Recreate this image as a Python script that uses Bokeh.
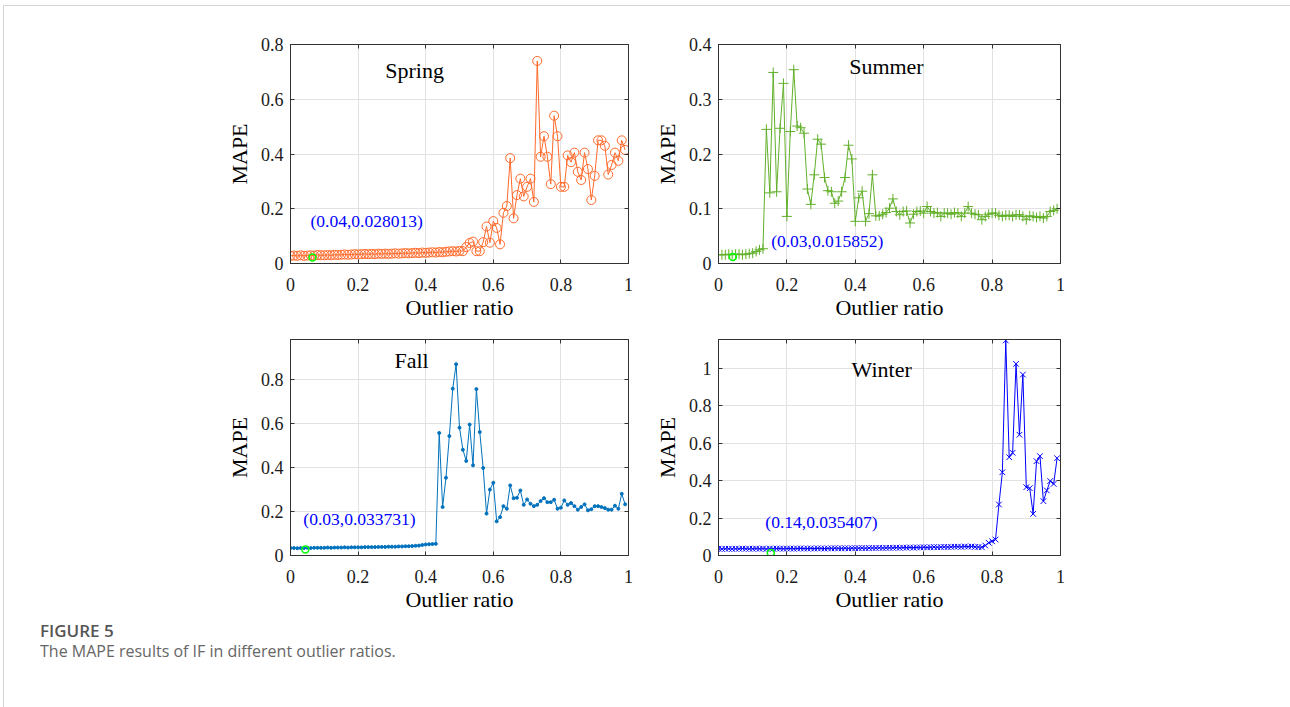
from bokeh.plotting import figure
from bokeh.layouts import row, column
from bokeh.models import (Spacer, Div, Label, LinearAxis, FixedTicker, Range1d,
                          CustomLabelingPolicy)
from bokeh.embed import file_html
from bokeh.resources import INLINE

# ---------------- data ----------------
ratio = [i / 100 for i in range(100)]

spring = [0.028, 0.029, 0.028, 0.030, 0.028, 0.029, 0.030, 0.029, 0.031, 0.030,
          0.030, 0.031, 0.030, 0.032, 0.031, 0.032, 0.033, 0.032, 0.033, 0.034,
          0.033, 0.034, 0.035, 0.034, 0.035, 0.034, 0.036, 0.035, 0.036, 0.035,
          0.036, 0.037, 0.036, 0.037, 0.038, 0.037, 0.038, 0.039, 0.038, 0.040,
          0.039, 0.040, 0.041, 0.040, 0.042, 0.041, 0.043, 0.044, 0.045, 0.044,
          0.046, 0.045, 0.060, 0.075, 0.080, 0.045, 0.045, 0.078, 0.135, 0.076,
          0.155, 0.130, 0.070, 0.185, 0.210, 0.385, 0.165, 0.250, 0.310, 0.245,
          0.280, 0.310, 0.225, 0.740, 0.390, 0.465, 0.390, 0.290, 0.540, 0.465,
          0.280, 0.280, 0.395, 0.370, 0.405, 0.335, 0.305, 0.405, 0.345, 0.232,
          0.320, 0.450, 0.450, 0.430, 0.325, 0.360, 0.405, 0.375, 0.450, 0.415]

summer = [0.016, 0.016, 0.016, 0.017, 0.016, 0.017, 0.017, 0.016, 0.017, 0.018,
          0.019, 0.022, 0.025, 0.027, 0.245, 0.129, 0.349, 0.131, 0.247, 0.329,
          0.086, 0.241, 0.354, 0.251, 0.248, 0.238, 0.136, 0.108, 0.162, 0.227,
          0.218, 0.157, 0.133, 0.131, 0.110, 0.114, 0.131, 0.157, 0.216, 0.191,
          0.077, 0.120, 0.132, 0.077, 0.091, 0.162, 0.087, 0.087, 0.090, 0.093,
          0.101, 0.118, 0.095, 0.089, 0.095, 0.096, 0.074, 0.090, 0.095, 0.096,
          0.092, 0.104, 0.095, 0.092, 0.093, 0.086, 0.092, 0.092, 0.090, 0.093,
          0.092, 0.086, 0.092, 0.104, 0.092, 0.090, 0.089, 0.080, 0.086, 0.090,
          0.092, 0.092, 0.088, 0.086, 0.088, 0.088, 0.086, 0.089, 0.089, 0.086,
          0.080, 0.087, 0.086, 0.084, 0.086, 0.083, 0.086, 0.095, 0.097, 0.100]

fall = [0.034, 0.034, 0.033, 0.034, 0.034, 0.035, 0.034, 0.035, 0.035, 0.035,
        0.035, 0.036, 0.035, 0.036, 0.036, 0.036, 0.037, 0.036, 0.037, 0.037,
        0.037, 0.037, 0.038, 0.038, 0.038, 0.038, 0.039, 0.039, 0.039, 0.040,
        0.040, 0.040, 0.041, 0.041, 0.042, 0.042, 0.043, 0.044, 0.045, 0.048,
        0.050, 0.051, 0.052, 0.053, 0.556, 0.220, 0.353, 0.542, 0.757, 0.868,
        0.580, 0.480, 0.429, 0.594, 0.409, 0.755, 0.560, 0.397, 0.190, 0.299,
        0.330, 0.155, 0.174, 0.224, 0.212, 0.318, 0.260, 0.262, 0.295, 0.230,
        0.254, 0.235, 0.224, 0.230, 0.247, 0.260, 0.242, 0.242, 0.253, 0.212,
        0.217, 0.250, 0.230, 0.238, 0.224, 0.208, 0.220, 0.232, 0.205, 0.210,
        0.224, 0.224, 0.220, 0.215, 0.208, 0.208, 0.226, 0.212, 0.280, 0.232]

winter = [0.036, 0.035, 0.036, 0.036, 0.035, 0.036, 0.036, 0.037, 0.036, 0.036,
          0.036, 0.037, 0.036, 0.037, 0.035, 0.037, 0.036, 0.037, 0.037, 0.036,
          0.037, 0.037, 0.036, 0.037, 0.038, 0.037, 0.037, 0.038, 0.037, 0.038,
          0.038, 0.037, 0.038, 0.038, 0.039, 0.038, 0.038, 0.039, 0.038, 0.039,
          0.039, 0.039, 0.040, 0.039, 0.040, 0.040, 0.040, 0.041, 0.040, 0.041,
          0.041, 0.041, 0.042, 0.041, 0.042, 0.042, 0.043, 0.042, 0.043, 0.043,
          0.044, 0.043, 0.044, 0.045, 0.044, 0.045, 0.046, 0.045, 0.046, 0.047,
          0.047, 0.046, 0.048, 0.047, 0.048, 0.046, 0.045, 0.044, 0.053, 0.068,
          0.076, 0.085, 0.272, 0.444, 1.147, 0.524, 0.548, 1.022, 0.644, 0.965,
          0.364, 0.359, 0.222, 0.503, 0.530, 0.290, 0.347, 0.397, 0.382, 0.519]

# best (minimum) points marked in green, and their annotation texts
best_x = [0.065, 0.042, 0.044, 0.153]
best_y = [0.022, 0.012, 0.027, 0.014]
best_text = ["(0.04,0.028013)", "(0.03,0.015852)", "(0.03,0.033731)", "(0.14,0.035407)"]
season_names = ["Spring", "Summer", "Fall", "Winter"]

x_ticks = [0, 0.2, 0.4, 0.6, 0.8, 1]
x_tick_labels = ["0", "0.2", "0.4", "0.6", "0.8", "1"]
y_ticks_spring = [0, 0.2, 0.4, 0.6, 0.8]
y_labels_spring = ["0", "0.2", "0.4", "0.6", "0.8"]
y_ticks_summer = [0, 0.1, 0.2, 0.3, 0.4]
y_labels_summer = ["0", "0.1", "0.2", "0.3", "0.4"]
y_ticks_fall = [0, 0.2, 0.4, 0.6, 0.8]
y_labels_fall = ["0", "0.2", "0.4", "0.6", "0.8"]
y_ticks_winter = [0, 0.2, 0.4, 0.6, 0.8, 1]
y_labels_winter = ["0", "0.2", "0.4", "0.6", "0.8", "1"]

FONT = "Liberation Serif"
AX = "#333333"

NO_LABELS = """
for (let i = 0; i < indices.size; i++) { indices.unset(i) }
return indices
"""


def panel(name, ys, ymax, yt, yl, color, marker, msize, filled, bi,
          title_pos, ann_pos, frame_w, frame_h, top):
    bl, br, bb = 70, 10, 64
    p = figure(width=bl + frame_w + br, height=top + frame_h + bb,
               x_range=Range1d(0, 1), y_range=Range1d(0, ymax),
               output_backend="svg", toolbar_location=None,
               min_border_left=bl, min_border_right=br,
               min_border_top=top, min_border_bottom=bb)
    p.background_fill_color = "white"
    p.border_fill_color = "white"
    p.outline_line_color = AX
    p.outline_line_width = 1
    for ax, ticks, labels in ((p.xaxis[0], x_ticks, x_tick_labels), (p.yaxis[0], yt, yl)):
        ax.ticker = FixedTicker(ticks=ticks)
        ax.major_label_overrides = {t: l for t, l in zip(ticks, labels)}
        ax.major_tick_in = 4
        ax.major_tick_out = 0
        ax.minor_tick_line_color = None
        ax.axis_line_color = AX
        ax.major_tick_line_color = AX
        ax.major_label_text_font = FONT
        ax.major_label_text_font_size = "18px"
        ax.major_label_text_color = "#1a1a1a"
        ax.axis_label_text_font = FONT
        ax.axis_label_text_font_size = "22px"
        ax.axis_label_text_font_style = "normal"
        ax.axis_label_text_color = "#000000"
    p.xaxis.axis_label = "Outlier ratio"
    p.yaxis.axis_label = "MAPE"
    p.xaxis.major_label_standoff = 14
    p.xaxis.axis_label_standoff = 1
    p.yaxis.major_label_standoff = 7
    p.yaxis.axis_label_standoff = 6
    # box-style tick marks on the top and right edges (no labels)
    for loc, ticks in (("above", x_ticks), ("right", yt)):
        extra = LinearAxis(ticker=FixedTicker(ticks=ticks),
                           major_label_policy=CustomLabelingPolicy(code=NO_LABELS),
                           major_label_text_font_size="0px",
                           major_label_standoff=0, major_tick_in=4, major_tick_out=0,
                           minor_tick_line_color=None, axis_line_color=AX,
                           major_tick_line_color=AX)
        p.add_layout(extra, loc)
    p.xgrid.ticker = FixedTicker(ticks=x_ticks)
    p.ygrid.ticker = FixedTicker(ticks=yt)
    p.grid.grid_line_color = "#E2E2E2"
    p.grid.grid_line_width = 1

    p.line(ratio, ys, line_color=color, line_width=1)
    if filled:
        p.scatter(ratio, ys, marker=marker, size=msize, line_color=color, fill_color=color)
    else:
        p.scatter(ratio, ys, marker=marker, size=msize, line_color=color, fill_color=None,
                  line_width=1)
    p.scatter([best_x[bi]], [best_y[bi]], marker="circle", size=7, line_color="#00FF00",
              fill_color=None, line_width=1.5)
    p.add_layout(Label(x=title_pos[0], y=title_pos[1], text=name, text_font=FONT,
                       text_font_size="22px", text_align="center", text_baseline="middle",
                       text_color="#000000"))
    p.add_layout(Label(x=ann_pos[0], y=ann_pos[1], text=best_text[bi], text_font=FONT,
                       text_font_size="17.5px", text_align="left", text_baseline="middle",
                       text_color="#0000FF"))
    return p


p1 = panel(season_names[0], spring, 0.8, y_ticks_spring, y_labels_spring, "#FF6A2B",
           "circle", 9, False, 0, (0.367, 0.705), (0.059, 0.154), 338, 219, 38)
p2 = panel(season_names[1], summer, 0.4, y_ticks_summer, y_labels_summer, "#62B02A",
           "cross", 10, False, 1, (0.491, 0.36), (0.154, 0.042), 342, 219, 38)
p3 = panel(season_names[2], fall, 0.98, y_ticks_fall, y_labels_fall, "#0072BD",
           "circle", 3, True, 2, (0.358, 0.886), (0.038, 0.164), 338, 216, 12)
p4 = panel(season_names[3], winter, 1.152, y_ticks_winter, y_labels_winter, "#0000FF",
           "x", 8, False, 3, (0.477, 0.99), (0.137, 0.178), 342, 216, 12)

caption = Div(text=(
    '<div style="padding-left:31px;margin-top:-3px;">'
    '<div style="font-family:\'Open Sans\';font-weight:600;font-size:17px;color:#555555;'
    'line-height:20px;">FIGURE 5</div>'
    '<div style="font-family:\'Open Sans\';font-size:16px;color:#666666;line-height:20px;">'
    'The MAPE results of IF in different outlier ratios.</div></div>'),
    width=1280, height=80)

top_row = row(Spacer(width=216), p1, Spacer(width=10), p2)
bot_row = row(Spacer(width=216), p3, Spacer(width=10), p4)
page = column(top_row, bot_row, caption,
              styles={"border": "1px solid #d4d4d4", "border-bottom": "none"})
outer = column(Spacer(height=5), row(Spacer(width=3), page))

open("out.html", "w").write(file_html(outer, INLINE))
